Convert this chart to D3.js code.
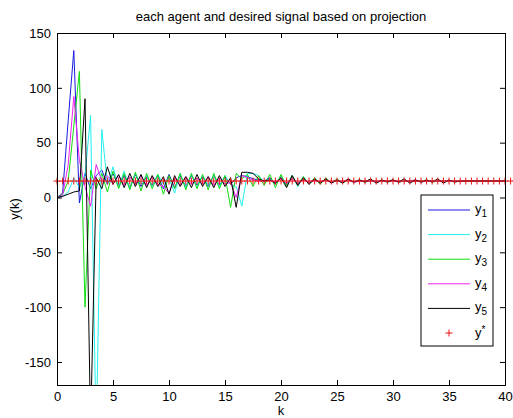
<!DOCTYPE html>
<html>
<head>
<meta charset="utf-8">
<script src="https://cdn.jsdelivr.net/npm/d3@7"></script>
<style>
  body { margin: 0; background: #fff; }
  svg text { font-family: "Liberation Sans", Arial, sans-serif; }
</style>
</head>
<body>
<svg id="chart" width="513" height="418"></svg>
<script>
// k runs 0..40 in steps of 0.5
const kValues = d3.range(0, 40.5, 0.5);
const kStar = d3.range(0, 41.5, 0.5);
const yStar = 15;

const y1 = [0, 4, 70, 134, -5, 22, 8, 20, 25, 12,
  22, 10, 20, 9, 21, 10, 19, 11, 20, 8,
  21, 9, 20, 10, 20, 11, 19, 10, 20, 11,
  19, 12, 18, 20, 19, 17, 16, 15, 18, 12,
  19, 11, 19, 12, 18, 13, 16, 14, 16, 14,
  16, 14, 16, 14, 15, 15, 16, 14, 15, 15,
  16, 14, 15, 15, 16, 14, 15, 15, 15, 15,
  15, 15, 15, 15, 15, 15, 15, 15, 15, 15, 15];
const y2 = [0, 1, 5, 18, 9, 20, 75, -220, 62, 12,
  28, 10, 24, 8, 22, 12, 20, 10, 21, 12,
  18, 4, 22, 9, 21, 10, 20, 11, 20, 10,
  20, 12, 10, -8, 22, 22, 20, 14, 17, 13,
  19, 11, 20, 10, 19, 12, 17, 13, 17, 13,
  16, 14, 16, 14, 16, 14, 15, 15, 16, 14,
  15, 15, 16, 14, 15, 15, 15, 15, 15, 15,
  15, 15, 15, 15, 15, 15, 15, 15, 15, 15, 15];
const y3 = [0, 3, 15, 65, 115, -100, 25, 8, 22, 5,
  24, 8, 22, 7, 23, 6, 22, 8, 21, 3,
  20, 8, 22, 7, 22, 8, 21, 7, 22, 8,
  20, -9, 22, 17, 21, 10, 20, 11, 21, 9,
  21, 10, 20, 11, 19, 12, 18, 12, 18, 13,
  17, 13, 16, 14, 16, 14, 16, 14, 15, 15,
  16, 14, 15, 15, 15, 15, 16, 14, 15, 15,
  15, 15, 15, 15, 15, 15, 15, 15, 15, 15, 15];
const y4 = [0, 2, 30, 92, 34, 10, -8, 30, 15, 20,
  12, 20, 11, 19, 12, 20, 11, 19, 12, 10,
  4, 18, 11, 19, 12, 18, 12, 19, 11, 18,
  12, 14, 0, 20, 18, 16, 15, 15, 16, 14,
  17, 13, 17, 13, 16, 14, 16, 14, 16, 14,
  15, 15, 16, 14, 15, 15, 15, 15, 15, 15,
  15, 15, 15, 15, 15, 15, 15, 15, 15, 15,
  15, 15, 15, 15, 15, 15, 15, 15, 15, 15, 15];
const y5 = [0, 1, 3, 5, 6, 90, -210, 18, 8, 28,
  12, 21, 9, 22, 10, 21, 9, 20, 10, 19,
  3, 20, 10, 19, 9, 21, 10, 19, 9, 20,
  10, 18, -9, 23, 23, 22, 17, 15, 16, 13,
  18, 9, 20, 11, 18, 12, 17, 13, 17, 13,
  16, 13, 17, 14, 16, 14, 17, 13, 16, 14,
  16, 14, 17, 13, 16, 14, 16, 14, 17, 13,
  16, 14, 15, 15, 15, 15, 15, 15, 15, 15, 15];

const seriesNames = ["1", "2", "3", "4", "5"];
const seriesValues = [y1, y2, y3, y4, y5];
const seriesColors = ["#1a1ae0", "#22eeee", "#11dd11", "#ee22ee", "#000000"];
const starColor = "#ee1111";

const xTicks = d3.range(0, 45, 5);
const yTicks = [-150, -100, -50, 0, 50, 100, 150];

const svg = d3.select("#chart");
const mLeft = 57, mRight = 505, mTop = 33, mBottom = 385;

const x = d3.scaleLinear().domain([0, 40]).range([mLeft, mRight]);
const y = d3.scaleLinear().domain([-171, 150]).range([mBottom, mTop]);

svg.append("defs").append("clipPath").attr("id", "plotclip")
  .append("rect").attr("x", mLeft).attr("y", mTop)
  .attr("width", mRight - mLeft).attr("height", mBottom - mTop);

// series lines
const line = d3.line().x((d, i) => x(kValues[i])).y(d => y(d));
const plot = svg.append("g").attr("clip-path", "url(#plotclip)");
seriesValues.forEach((vals, s) => {
  plot.append("path")
    .attr("d", line(vals))
    .attr("fill", "none")
    .attr("stroke", seriesColors[s])
    .attr("stroke-width", 1);
});

// desired signal y* as + markers
const cs = 3.5;
svg.append("g").selectAll("path").data(kStar).join("path")
  .attr("d", k => `M${x(k) - cs},${y(yStar)}H${x(k) + cs}M${x(k)},${y(yStar) - cs}V${y(yStar) + cs}`)
  .attr("stroke", starColor)
  .attr("stroke-width", 1)
  .attr("fill", "none");

// axes (ticks inward, box on)
const fontSize = 13;
const fmt = d => String(d);
const xAxis = d3.axisBottom(x).tickValues(xTicks).tickFormat(fmt).tickSize(-5).tickPadding(7);
const yAxis = d3.axisLeft(y).tickValues(yTicks).tickFormat(fmt).tickSize(-5).tickPadding(6);
svg.append("g").attr("transform", `translate(0,${mBottom})`).call(xAxis);
svg.append("g").attr("transform", `translate(${mLeft},0)`).call(yAxis);
svg.append("g").attr("transform", `translate(0,${mTop})`)
  .call(d3.axisTop(x).tickValues(xTicks).tickSize(-5).tickFormat(""));
svg.append("g").attr("transform", `translate(${mRight},0)`)
  .call(d3.axisRight(y).tickValues(yTicks).tickSize(-5).tickFormat(""));
svg.selectAll(".domain").attr("stroke", "#000");
svg.selectAll(".tick line").attr("stroke", "#000");
svg.selectAll(".tick text").attr("font-size", fontSize).attr("fill", "#000")
  .attr("font-family", "'Liberation Sans', Arial, sans-serif");

// titles
svg.append("text").attr("x", (mLeft + mRight) / 2).attr("y", 21)
  .attr("text-anchor", "middle").attr("font-size", fontSize).text("each agent and desired signal based on projection");
svg.append("text").attr("x", (mLeft + mRight) / 2).attr("y", 415)
  .attr("text-anchor", "middle").attr("font-size", fontSize).text("k");
svg.append("text").attr("transform", `translate(19,${(mTop + mBottom) / 2}) rotate(-90)`)
  .attr("text-anchor", "middle").attr("font-size", fontSize).text("y(k)");

// legend
const lg = svg.append("g");
lg.append("rect").attr("x", 421).attr("y", 195).attr("width", 72).attr("height", 151)
  .attr("fill", "#fff").attr("stroke", "#000");
const rowY = d => 210 + d * 24.6;
seriesNames.forEach((n, i) => {
  lg.append("line").attr("x1", 428).attr("x2", 470).attr("y1", rowY(i)).attr("y2", rowY(i))
    .attr("stroke", seriesColors[i]);
  const t = lg.append("text").attr("x", 475).attr("y", rowY(i) + 3).attr("font-size", fontSize);
  t.append("tspan").text("y");
  t.append("tspan").attr("dy", 4).attr("font-size", 10).text(n);
});
const sy = rowY(5);
lg.append("path").attr("d", `M${449 - cs},${sy}H${449 + cs}M449,${sy - cs}V${sy + cs}`)
  .attr("stroke", starColor).attr("fill", "none");
const ts = lg.append("text").attr("x", 475).attr("y", sy + 4).attr("font-size", fontSize);
ts.append("tspan").text("y");
ts.append("tspan").attr("dy", -4).attr("font-size", 10).text("*");
</script>
</body>
</html>
